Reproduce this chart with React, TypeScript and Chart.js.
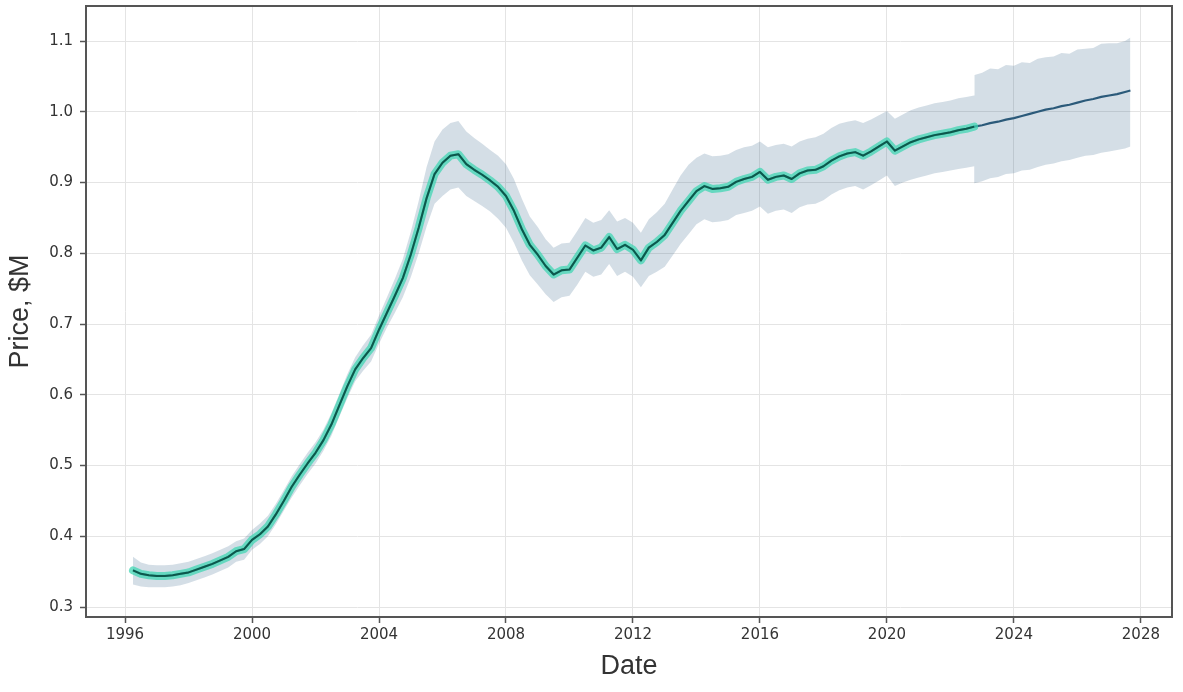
import React, { useEffect, useRef } from "react";
import { Chart, registerables } from "chart.js";

Chart.register(...registerables);

// Decimal-year dates (quarterly history, quarterly forecast)
const dates = [
  1996.25, 1996.5, 1996.75, 1997.0, 1997.25, 1997.5, 1997.75, 1998.0, 1998.25, 1998.5, 1998.75,
  1999.0, 1999.25, 1999.5, 1999.75, 2000.0, 2000.25, 2000.5, 2000.75, 2001.0, 2001.25, 2001.5, 2001.75,
  2002.0, 2002.25, 2002.5, 2002.75, 2003.0, 2003.25, 2003.5, 2003.75, 2004.0, 2004.25, 2004.5, 2004.75,
  2005.0, 2005.25, 2005.5, 2005.75, 2006.0, 2006.25, 2006.5, 2006.75, 2007.0, 2007.25, 2007.5, 2007.75,
  2008.0, 2008.25, 2008.5, 2008.75, 2009.0, 2009.25, 2009.5, 2009.75, 2010.0, 2010.25, 2010.5, 2010.75,
  2011.0, 2011.25, 2011.5, 2011.75, 2012.0, 2012.25, 2012.5, 2012.75, 2013.0, 2013.25, 2013.5, 2013.75,
  2014.0, 2014.25, 2014.5, 2014.75, 2015.0, 2015.25, 2015.5, 2015.75, 2016.0, 2016.25, 2016.5, 2016.75,
  2017.0, 2017.25, 2017.5, 2017.75, 2018.0, 2018.25, 2018.5, 2018.75, 2019.0, 2019.25, 2019.5, 2019.75,
  2020.0, 2020.25, 2020.5, 2020.75, 2021.0, 2021.25, 2021.5, 2021.75, 2022.0, 2022.25, 2022.5, 2022.75,
  2022.76, 2023.0, 2023.25, 2023.5, 2023.75, 2024.0, 2024.25, 2024.5, 2024.75, 2025.0, 2025.25, 2025.5,
  2025.75, 2026.0, 2026.25, 2026.5, 2026.75, 2027.0, 2027.25, 2027.5, 2027.67,
];

// Model fit / forecast (yhat), $M
const yhat = [
  0.352, 0.347, 0.345, 0.344, 0.344, 0.345, 0.347, 0.349, 0.353, 0.357, 0.361,
  0.366, 0.371, 0.379, 0.382, 0.395, 0.403, 0.414, 0.431, 0.45, 0.47, 0.487, 0.503,
  0.518, 0.536, 0.558, 0.585, 0.612, 0.636, 0.652, 0.666, 0.692, 0.716, 0.74, 0.765,
  0.798, 0.836, 0.878, 0.912, 0.928, 0.938, 0.94, 0.926, 0.918, 0.911, 0.903, 0.894,
  0.881, 0.86, 0.834, 0.812, 0.798, 0.782, 0.77, 0.776, 0.777, 0.794, 0.811, 0.804,
  0.808, 0.823, 0.806, 0.812, 0.805, 0.79, 0.808, 0.816, 0.826, 0.843, 0.86, 0.874,
  0.888, 0.895, 0.891, 0.892, 0.894, 0.901, 0.905, 0.908, 0.915, 0.904, 0.908, 0.91,
  0.905, 0.913, 0.917, 0.918, 0.923, 0.931, 0.937, 0.941, 0.943, 0.938, 0.944, 0.951,
  0.958, 0.945, 0.951, 0.957, 0.961, 0.964, 0.967, 0.969, 0.971, 0.974, 0.976, 0.979,
  0.979, 0.981, 0.984, 0.986, 0.989, 0.991, 0.994, 0.997, 1.0, 1.003, 1.005, 1.008,
  1.01, 1.013, 1.016, 1.018, 1.021, 1.023, 1.025, 1.028, 1.03,
];

// Upper bound of the uncertainty interval
const upper = [
  0.371, 0.363, 0.36, 0.359, 0.359, 0.36, 0.362, 0.364, 0.368, 0.372, 0.376,
  0.381, 0.386, 0.393, 0.397, 0.409, 0.418, 0.429, 0.446, 0.465, 0.485, 0.502, 0.518,
  0.533, 0.551, 0.574, 0.601, 0.629, 0.653, 0.67, 0.685, 0.712, 0.738, 0.764, 0.792,
  0.83, 0.874, 0.922, 0.958, 0.975, 0.984, 0.987, 0.972, 0.963, 0.955, 0.946, 0.938,
  0.926, 0.905, 0.877, 0.852, 0.837, 0.82, 0.808, 0.814, 0.815, 0.832, 0.85, 0.843,
  0.847, 0.861, 0.845, 0.85, 0.843, 0.829, 0.848, 0.858, 0.87, 0.89, 0.91, 0.925,
  0.935, 0.941, 0.937, 0.938, 0.94, 0.946, 0.95, 0.952, 0.958, 0.95, 0.953, 0.955,
  0.951, 0.958, 0.962, 0.964, 0.969, 0.977, 0.983, 0.986, 0.988, 0.984, 0.989, 0.995,
  1.001, 0.99, 0.996, 1.002, 1.006, 1.009, 1.012, 1.014, 1.016, 1.019, 1.021, 1.023,
  1.052, 1.055, 1.061, 1.06, 1.066, 1.065, 1.07, 1.069, 1.075, 1.077, 1.078, 1.083,
  1.082, 1.088, 1.089, 1.09, 1.096, 1.097, 1.097, 1.1, 1.105,
];

// Lower bound of the uncertainty interval
const lower = [
  0.332, 0.329, 0.328, 0.328, 0.328, 0.329, 0.331, 0.334, 0.338, 0.342, 0.346,
  0.351, 0.356, 0.364, 0.367, 0.381, 0.389, 0.4, 0.417, 0.436, 0.455, 0.472, 0.488,
  0.503, 0.521, 0.542, 0.569, 0.595, 0.619, 0.634, 0.647, 0.672, 0.695, 0.716, 0.738,
  0.766, 0.8, 0.838, 0.87, 0.881, 0.89, 0.893, 0.881, 0.874, 0.867, 0.859, 0.849,
  0.836, 0.815, 0.79, 0.769, 0.756, 0.742, 0.731, 0.738, 0.74, 0.756, 0.774, 0.767,
  0.77, 0.785, 0.768, 0.774, 0.767, 0.752, 0.768, 0.774, 0.781, 0.797, 0.813, 0.827,
  0.841, 0.848, 0.844, 0.845, 0.847, 0.854, 0.857, 0.86, 0.866, 0.856, 0.86, 0.862,
  0.857, 0.865, 0.869, 0.87, 0.875, 0.883, 0.889, 0.893, 0.895, 0.89, 0.896, 0.903,
  0.91, 0.895, 0.9, 0.904, 0.907, 0.91, 0.913, 0.915, 0.917, 0.919, 0.921, 0.923,
  0.899, 0.902, 0.906, 0.908, 0.912, 0.913, 0.917, 0.918, 0.922, 0.925, 0.927, 0.93,
  0.932, 0.935, 0.938, 0.939, 0.942, 0.944, 0.946, 0.948, 0.951,
];

// Observed history ends here (after that: forecast only)
const lastObservedDate = 2022.75;

const xTickValues = [1996, 2000, 2004, 2008, 2012, 2016, 2020, 2024, 2028];
const yTickValues = [0.3, 0.4, 0.5, 0.6, 0.7, 0.8, 0.9, 1.0, 1.1];

const xTitle = "Date";
const yTitle = "Price, $M";

const toPoints = (ys: number[]) => dates.map((d, i) => ({ x: d, y: ys[i] }));

const framePlugin = {
  id: "frame",
  afterDraw(chart: any) {
    const { ctx, chartArea } = chart;
    const { left, top, right, bottom } = chartArea;
    ctx.save();
    ctx.strokeStyle = "#555555";
    ctx.lineWidth = 2;
    ctx.strokeRect(left, top, right - left, bottom - top);
    ctx.restore();
  },
};

export default function App() {
  const canvasRef = useRef<HTMLCanvasElement | null>(null);

  useEffect(() => {
    if (!canvasRef.current) return;
    const observed = toPoints(yhat).filter((p) => p.x <= lastObservedDate);

    const tickFont = { family: "DejaVu Sans", size: 15 };
    const titleFont = { family: "Liberation Sans", size: 27 };

    const chart = new Chart(canvasRef.current, {
      type: "line",
      data: {
        datasets: [
          {
            label: "upper",
            data: toPoints(upper),
            borderWidth: 0,
            pointRadius: 0,
            backgroundColor: "rgba(42,92,130,0.2)",
            fill: "+1",
            order: 10,
          },
          {
            label: "lower",
            data: toPoints(lower),
            borderWidth: 0,
            pointRadius: 0,
            fill: false,
            order: 11,
          },
          {
            label: "forecast",
            data: toPoints(yhat),
            borderColor: "#2b5a7a",
            borderWidth: 2.2,
            pointRadius: 0,
            fill: false,
            order: 5,
          },
          {
            label: "observed halo",
            data: observed,
            borderColor: "rgba(60,214,178,0.72)",
            borderWidth: 8,
            borderCapStyle: "round",
            borderJoinStyle: "round",
            pointRadius: 0,
            fill: false,
            order: 3,
          },
          {
            label: "observed",
            data: observed,
            borderColor: "#0d574b",
            borderWidth: 2,
            borderJoinStyle: "round",
            pointRadius: 0,
            fill: false,
            order: 1,
          },
        ],
      },
      options: {
        responsive: false,
        animation: false,
        layout: { padding: { left: 0, top: 6, right: 11, bottom: 0 } },
        plugins: {
          legend: { display: false },
          tooltip: { enabled: false },
        },
        elements: { line: { tension: 0 } },
        scales: {
          x: {
            type: "linear",
            min: 1994.77,
            max: 2028.98,
            afterBuildTicks: (s: any) => {
              s.ticks = xTickValues.map((v) => ({ value: v }));
            },
            afterFit: (s: any) => {
              s.height = 75;
              s.paddingLeft = 0;
              s.paddingRight = 0;
            },
            ticks: {
              callback: (v: any) => String(v),
              font: tickFont,
              color: "#333333",
              padding: 3,
              maxRotation: 0,
              autoSkip: false,
            },
            grid: {
              color: "#e4e4e4",
              lineWidth: 1,
              tickColor: "#555555",
              tickLength: 6,
              tickWidth: 1.5,
            },
            border: { display: false },
            title: {
              display: true,
              text: xTitle,
              font: titleFont,
              color: "#333333",
              padding: { top: 0, bottom: 9 },
            },
          },
          y: {
            type: "linear",
            min: 0.286,
            max: 1.1495,
            afterBuildTicks: (s: any) => {
              s.ticks = yTickValues.map((v) => ({ value: v }));
            },
            afterFit: (s: any) => {
              s.width = 86;
              s.paddingTop = 0;
              s.paddingBottom = 0;
            },
            ticks: {
              callback: (v: any) => Number(v).toFixed(1),
              font: tickFont,
              color: "#333333",
              padding: 7,
            },
            grid: {
              color: "#e4e4e4",
              lineWidth: 1,
              tickColor: "#555555",
              tickLength: 6,
              tickWidth: 1.5,
            },
            border: { display: false },
            title: {
              display: true,
              text: yTitle,
              font: titleFont,
              color: "#333333",
              padding: { top: 4, bottom: 0 },
            },
          },
        },
      },
      plugins: [framePlugin],
    });

    return () => chart.destroy();
  }, []);

  return (
    <canvas
      ref={canvasRef}
      width={1183}
      height={692}
      style={{ position: "absolute", left: 0, top: 0, display: "block", background: "#ffffff" }}
    />
  );
}
